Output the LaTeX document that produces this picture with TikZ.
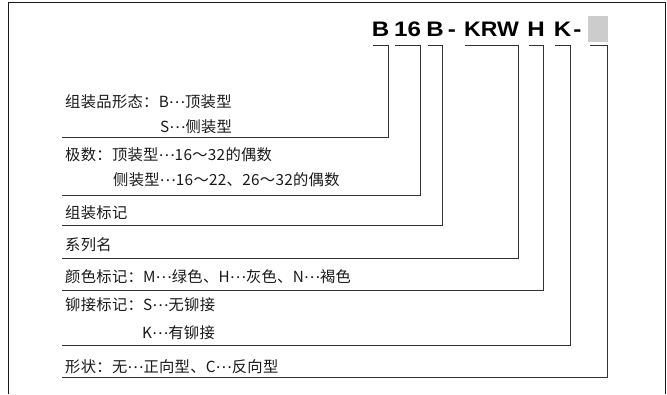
\documentclass[tikz,border=0pt]{standalone}
\usepackage{fontspec}
\setmainfont{Noto Sans CJK SC}[LetterSpace=2]
\newfontfamily\hdrfont{Liberation Sans}[Scale=1]
\newcommand{\mydots}{\raisebox{0.3em}{…}}
\definecolor{linec}{HTML}{333333}
\definecolor{boxgray}{HTML}{CCCCCC}
\begin{document}
\begin{tikzpicture}[x=1pt,y=-1pt,
  lbl/.style={anchor=west,inner sep=0pt,font=\fontsize{15.3}{17}\selectfont,text=black!90},
  hdr/.style={anchor=base,inner sep=0pt,font=\hdrfont\bfseries\fontsize{21}{22}\selectfont},
  conn/.style={draw=linec,line width=0.8pt},
  frame/.style={draw=black!90,line width=0.9pt}]
\useasboundingbox (0,0) rectangle (667,394);
% frame
\draw[frame] (8,394) -- (8,2) -- (665,2) -- (665,394);
% header
\node[hdr] (h1) at (380.5,36) {\scalebox{1.15}[1]{B}};
\node[hdr] (h2) at (407.5,36) {\scalebox{1.15}[1]{16}};
\node[hdr] (h3) at (435,36) {\scalebox{1.15}[1]{B}};
\node[hdr] (h4) at (452,36) {\scalebox{1.15}[1]{-}};
\node[hdr] (h5) at (491.5,36) {\scalebox{1.1}[1]{KRW}};
\node[hdr] (h6) at (536,36) {\scalebox{1.15}[1]{H}};
\node[hdr] (h7) at (562.5,36) {\scalebox{1.15}[1]{K}};
\node[hdr] (h8) at (577.5,36) {\scalebox{1.15}[1]{-}};
\node[fill=boxgray,minimum width=20pt,minimum height=26pt,inner sep=0pt] (h9) at (598,29) {};
% labels
\node[lbl] (t1a) at (65,102) {组装品形态：B\mydots 顶装型};
\node[lbl] (t1b) at (160,127) {S\mydots 侧装型};
\node[lbl] (t2a) at (65,155) {极数：顶装型\mydots 16～32的偶数};
\node[lbl] (t2b) at (113,180) {侧装型\mydots 16～22、26～32的偶数};
\node[lbl] (t3) at (65,213) {组装标记};
\node[lbl] (t4) at (65,245) {系列名};
\node[lbl] (t5) at (65,277) {颜色标记：M\mydots 绿色、H\mydots 灰色、N\mydots 褐色};
\node[lbl] (t6a) at (65,305) {铆接标记：S\mydots 无铆接};
\node[lbl] (t6b) at (142,333) {K\mydots 有铆接};
\node[lbl] (t7) at (65,367) {形状：无\mydots 正向型、C\mydots 反向型};
% bracket coordinates
\coordinate (a1) at (373,45); \coordinate (b1) at (388,45); \coordinate (c1) at (388,137); \coordinate (d1) at (62,137);
\coordinate (a2) at (395,45); \coordinate (b2) at (420,45); \coordinate (c2) at (420,195); \coordinate (d2) at (62,195);
\coordinate (a3) at (428,45); \coordinate (b3) at (442,45); \coordinate (c3) at (442,225); \coordinate (d3) at (62,225);
\coordinate (a4) at (465,45); \coordinate (b4) at (518,45); \coordinate (c4) at (518,258); \coordinate (d4) at (62,258);
\coordinate (a5) at (529,45); \coordinate (b5) at (543,45); \coordinate (c5) at (543,290); \coordinate (d5) at (62,290);
\coordinate (a6) at (555,45); \coordinate (b6) at (570,45); \coordinate (c6) at (570,345); \coordinate (d6) at (62,345);
\coordinate (a7) at (590,45); \coordinate (b7) at (607,45); \coordinate (c7) at (607,377); \coordinate (d7) at (62,377);
\foreach \i in {1,...,7}{
  \draw[conn] (a\i) -- (b\i) -- (c\i) -- (d\i);
}
\end{tikzpicture}
\end{document}
